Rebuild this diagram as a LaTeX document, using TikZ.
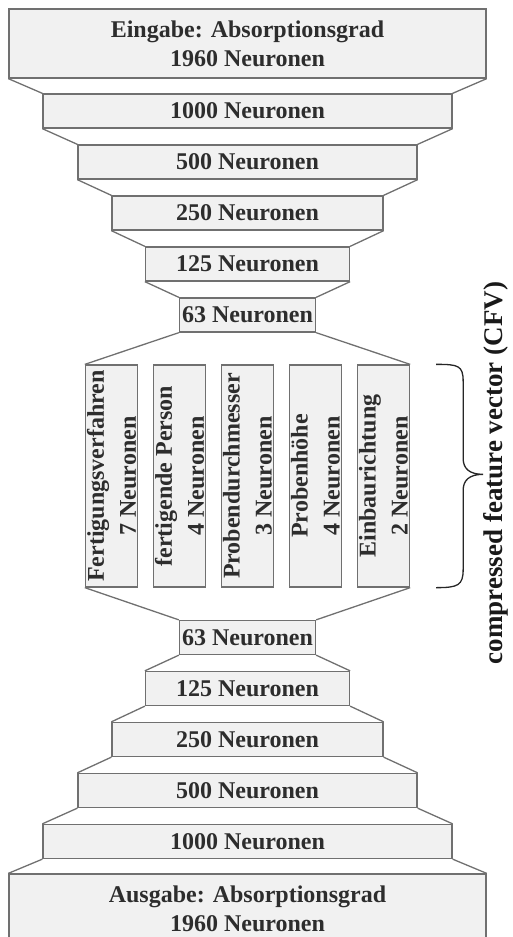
\documentclass[tikz,border=0pt]{standalone}
\usepackage{fontspec}
\setmainfont{Liberation Serif}
\usetikzlibrary{positioning}

\definecolor{boxline}{RGB}{112,112,112}
\definecolor{boxfill}{RGB}{241,241,241}
\definecolor{boxtext}{RGB}{45,45,45}

\tikzset{
    layer/.style={draw=boxline, fill=boxfill, line width=1.3pt, inner sep=0pt,
        text=boxtext, align=center, font=\fontsize{24}{29}\selectfont\bfseries},
    feature/.style={layer, rotate=90, minimum width=222pt, minimum height=52pt,
        font=\fontsize{24}{32}\selectfont\bfseries},
    link/.style={draw=boxline, line width=1.3pt},
    cfvbrace/.style={line width=1.3pt, draw=black!85}
}

\begin{document}
\begin{tikzpicture}[x=1pt, y=-1pt]
    % Cut the picture to the size of the figure
    \clip (0,0) rectangle (512,937);
    \def\mid{247.5}
    \def\fy{476}

    % Encoder: input and shrinking layers
    \node[layer, minimum width=477pt, minimum height=69pt] (in) at (\mid,43.5) {Eingabe: Absorptionsgrad\\1960 Neuronen};
    \foreach \name/\w/\y/\n in {e1/409/111/1000, e2/339/162/500, e3/271/213/250, e4/204/264/125, e5/136/315/63}
        \node[layer, minimum width=\w pt, minimum height=34pt] (\name) at (\mid,\y) {\n\ Neuronen};

    % Decoder: growing layers and output
    \foreach \name/\w/\y/\n in {d5/136/637.5/63, d4/204/688.5/125, d3/271/739.5/250, d2/339/790.5/500, d1/409/841.5/1000}
        \node[layer, minimum width=\w pt, minimum height=34pt] (\name) at (\mid,\y) {\n\ Neuronen};
    \node[layer, minimum width=477pt, minimum height=69pt] (out) at (\mid,908.5) {Ausgabe: Absorptionsgrad\\1960 Neuronen};

    % Feature boxes (rotated: north east is the upper left corner)
    \node[feature] (f1) at (111.5,\fy) {Fertigungsverfahren\\7 Neuronen};
    \node[feature] (f2) at (179.5,\fy) {fertigende Person\\4 Neuronen};
    \node[feature] (f3) at (247.5,\fy) {Probendurchmesser\\3 Neuronen};
    \node[feature] (f4) at (315.5,\fy) {Probenhöhe\\4 Neuronen};
    \node[feature] (f5) at (383.5,\fy) {Einbaurichtung\\2 Neuronen};

    % Slanted sides between the layers
    \foreach \a/\b in {in/e1, e1/e2, e2/e3, e3/e4, e4/e5, d5/d4, d4/d3, d3/d2, d2/d1, d1/out} {
        \draw[link] (\a.south west) -- (\b.north west);
        \draw[link] (\a.south east) -- (\b.north east);
    }
    \draw[link] (e5.south west) -- (f1.north east);
    \draw[link] (e5.south east) -- (f5.south east);
    \draw[link] (f1.north west) -- (d5.north west);
    \draw[link] (f5.south west) -- (d5.north east);

    % Brace and label of the feature vector
    \coordinate (bt) at ([xshift=26pt]f5.south east);
    \coordinate (bb) at ([xshift=26pt]f5.south west);
    \draw[cfvbrace] (bt) .. controls +(22,0) and +(0,-16) .. ++(27,17)
        -- ++(0,77) .. controls +(0,10) and +(-14,0) .. ++(20,16)
        .. controls +(-14,0) and +(0,-10) .. ++(-20,16)
        -- ++(0,79) .. controls +(0,16) and +(22,0) .. (bb);
    \node[rotate=90, text=black!90, font=\fontsize{27}{32}\selectfont\bfseries] (cfv) at (496,473) {compressed feature vector (CFV)};
\end{tikzpicture}
\end{document}
